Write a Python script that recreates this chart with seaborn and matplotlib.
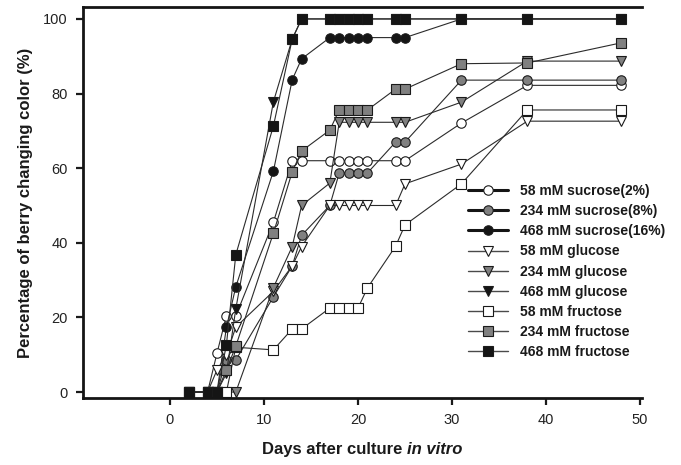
import matplotlib
matplotlib.use('Agg')
import matplotlib.pyplot as plt
import seaborn as sns
from matplotlib.lines import Line2D

# ---- data ----
days = [2, 4, 5, 6, 7, 11, 13, 14, 17, 18, 19, 20, 21, 24, 25, 31, 38, 48]
sucrose_58 = [0, 0, 10.4, 20.4, 20.4, 45.5, 62, 62, 62, 62, 62, 62, 62, 62, 62, 72.1, 82.2, 82.2]
sucrose_234 = [0, 0, 0, 8.6, 8.6, 25.5, 33.8, 42, 50, 58.7, 58.7, 58.7, 58.7, 67, 67, 83.6, 83.6, 83.6]
sucrose_468 = [0, 0, 0, 17.3, 28.2, 59.2, 83.7, 89.3, 95, 95, 95, 95, 95, 95, 95, 100, 100, 100]
glucose_58 = [0, 0, 5.9, 10, 17.4, 27, 33.8, 39, 50, 50, 50, 50, 50, 50, 55.8, 61.1, 72.6, 72.6]
glucose_234 = [0, 0, 0, 0, 0, 28, 39, 50, 56, 72.3, 72.3, 72.3, 72.3, 72.3, 72.3, 77.7, 88.7, 88.7]
glucose_468 = [0, 0, 0, 5, 22.3, 77.8, 94.6, 100, 100, 100, 100, 100, 100, 100, 100, 100, 100, 100]
fructose_58 = [0, 0, 0, 0, 12, 11.3, 16.9, 16.9, 22.5, 22.5, 22.5, 22.5, 27.9, 39.1, 44.8, 55.8, 75.6, 75.6]
fructose_234 = [0, 0, 0, 5.9, 12.3, 42.6, 59, 64.6, 70.2, 75.6, 75.6, 75.6, 75.6, 81.2, 81.2, 88, 88.2, 93.6]
fructose_468 = [0, 0, 0, 12.6, 36.8, 71.3, 94.6, 100, 100, 100, 100, 100, 100, 100, 100, 100, 100, 100]

series_labels = ['58 mM sucrose(2%)', '234 mM sucrose(8%)', '468 mM sucrose(16%)',
                 '58 mM glucose', '234 mM glucose', '468 mM glucose',
                 '58 mM fructose', '234 mM fructose', '468 mM fructose']
series_values = [sucrose_58, sucrose_234, sucrose_468,
                 glucose_58, glucose_234, glucose_468,
                 fructose_58, fructose_234, fructose_468]
x_ticks = [0, 10, 20, 30, 40, 50]
y_ticks = [0, 20, 40, 60, 80, 100]

# ---- styles ----
markers = ['o', 'o', 'o', 'v', 'v', 'v', 's', 's', 's']
fills = ['white', '#808080', '#151515'] * 3
msizes = [6.8, 6.8, 6.8, 7.4, 7.4, 7.4, 6.6, 6.6, 6.6]
legend_lw = [2.2, 2.2, 2.2, 1.0, 1.0, 1.0, 1.0, 1.0, 1.0]
legend_lc = ['#151515'] * 3 + ['#4a4a4a'] * 6

sns.set_theme(style='ticks')
plt.rcParams['font.family'] = ['Liberation Sans', 'DejaVu Sans']

fig = plt.figure(figsize=(6.81, 4.65), dpi=100)
W, H = 681, 465
ax_l, ax_r, ax_t, ax_b = 83, 642, 7, 398
ax = fig.add_axes([ax_l / W, 1 - ax_b / H, (ax_r - ax_l) / W, (ax_b - ax_t) / H])

for vals, m, fc, ms in zip(series_values, markers, fills, msizes):
    sns.lineplot(x=days, y=vals, ax=ax, color='#2b2b2b', linewidth=0.8,
                 marker=m, markersize=ms, mfc=fc, mec='#1a1a1a', mew=0.8,
                 legend=False, errorbar=None, sort=True)

ax.set_xlim(-9.25, 50.2)
ax.set_ylim(-1.6, 103.2)
ax.set_xticks(x_ticks)
ax.set_yticks(y_ticks)
ax.tick_params(axis='both', direction='out', length=5, width=1.6, colors='#1a1a1a',
               labelsize=10.5, labelcolor='#222222', pad=6)
for side in ['left', 'bottom', 'top']:
    ax.spines[side].set_linewidth(2.0)
    ax.spines[side].set_color('#151515')
ax.spines['right'].set_visible(False)

ax.set_ylabel('Percentage of berry changing color (%)', fontsize=12,
              fontweight='bold', color='#1a1a1a', labelpad=7)
ax.set_xlabel('')

# legend
handles = []
for lab, m, fc, ms, lw, lc in zip(series_labels, markers, fills, msizes, legend_lw, legend_lc):
    handles.append(Line2D([], [], color=lc, lw=lw, marker=m, markersize=ms,
                          markerfacecolor=fc, markeredgecolor='#1a1a1a', markeredgewidth=0.8))
leg = ax.legend(handles, series_labels, loc='upper left', bbox_to_anchor=(0.689, 0.547),
                frameon=False, borderpad=0, borderaxespad=0, handlelength=2.9,
                handletextpad=0.85, labelspacing=0.44,
                prop={'family': 'Liberation Sans', 'weight': 'bold', 'size': 10})
for t in leg.get_texts():
    t.set_color('#1a1a1a')

# x label with italic part
fig.canvas.draw()
r = fig.canvas.get_renderer()
t1 = fig.text(0, 0, 'Days after culture ', fontsize=12, fontweight='bold', color='#1a1a1a')
t2 = fig.text(0, 0, 'in vitro', fontsize=12, fontweight='bold', fontstyle='italic', color='#1a1a1a')
w1 = t1.get_window_extent(r).width
w2 = t2.get_window_extent(r).width
cx = (ax_l + ax_r) / 2
x0 = cx - (w1 + w2) / 2
ylab = 1 - 454 / H
t1.set_position((x0 / W, ylab))
t2.set_position(((x0 + w1) / W, ylab))

fig.savefig('out.png', dpi=100)
